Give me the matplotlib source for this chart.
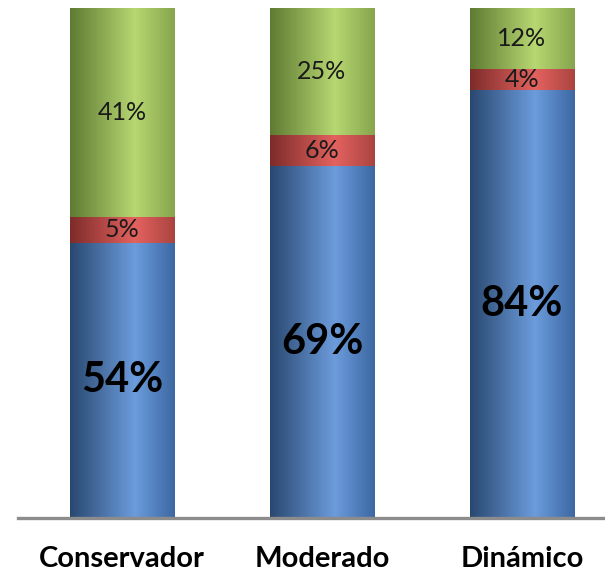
import matplotlib.pyplot as plt
import numpy as np
from matplotlib.colors import LinearSegmentedColormap

# data
categories = ['Conservador', 'Moderado', 'Dinámico']
base_vals = [54, 69, 84]     # blue
mid_vals = [5, 6, 4]         # red
top_vals = [41, 25, 12]      # green

# gradient stops (left edge, highlight, right edge) per series
shades = {
    'blue': ['#294870', '#6c9cdc', '#3c67a2'],
    'red': ['#7d2c2a', '#e4625f', '#aa4441'],
    'green': ['#5e7b32', '#b7d772', '#86a54d'],
}

plt.rcParams['font.family'] = ['Lato', 'DejaVu Sans']

fig = plt.figure(figsize=(6.05, 5.72), dpi=100)
ax = fig.add_axes([18 / 605, 54 / 572, 587 / 605, 510 / 572])

x = np.arange(len(categories))
width = 0.525

grad = np.linspace(0, 1, 256).reshape(1, -1)


def shade_bars(bars, name):
    cmap = LinearSegmentedColormap.from_list(name, list(zip([0, 0.62, 1], shades[name])))
    for b in bars:
        b.set_facecolor('none')
        b.set_edgecolor('none')
        x0, y0 = b.get_x(), b.get_y()
        im = ax.imshow(grad, cmap=cmap, aspect='auto', interpolation='bicubic',
                       extent=(x0, x0 + b.get_width(), y0, y0 + b.get_height()), zorder=2)
        im.set_clip_path(b)


bottoms2 = [a + b for a, b in zip(base_vals, mid_vals)]
b1 = ax.bar(x, base_vals, width)
b2 = ax.bar(x, mid_vals, width, bottom=base_vals)
b3 = ax.bar(x, top_vals, width, bottom=bottoms2)
shade_bars(b1, 'blue')
shade_bars(b2, 'red')
shade_bars(b3, 'green')

for i in range(len(categories)):
    ax.text(x[i], base_vals[i] / 2, f'{base_vals[i]}%', ha='center', va='center',
            fontsize=30, fontweight='bold', color='black', zorder=5)
    ax.text(x[i], base_vals[i] + mid_vals[i] / 2, f'{mid_vals[i]}%', ha='center', va='center',
            fontsize=18, color='#1a1a1a', zorder=5)
    ax.text(x[i], bottoms2[i] + top_vals[i] / 2, f'{top_vals[i]}%', ha='center', va='center',
            fontsize=18, color='#1a1a1a', zorder=5)

ax.set_xlim(-0.52, 2.415)
ax.set_ylim(0, 100)
ax.set_xticks(x)
ax.set_xticklabels(categories, fontsize=21, fontweight='bold')
ax.tick_params(axis='x', length=0, pad=20)
ax.set_yticks([])
for s in ['top', 'left', 'right']:
    ax.spines[s].set_visible(False)
ax.spines['bottom'].set_color('#8c8c8c')
ax.spines['bottom'].set_linewidth(2.4)
ax.spines['bottom'].set_zorder(6)

fig.savefig('out.png', dpi=100)
